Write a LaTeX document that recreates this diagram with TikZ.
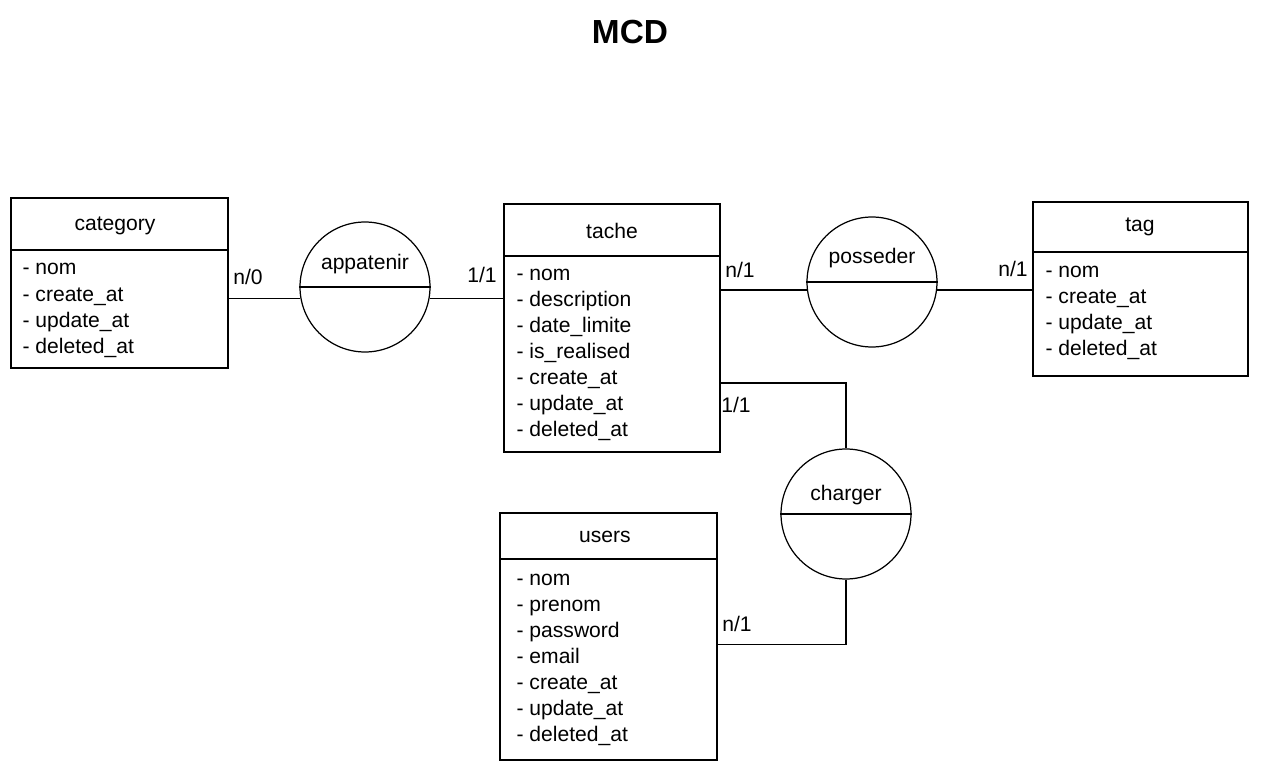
\documentclass[tikz,border=0pt]{standalone}
\usepackage{fontspec}
\setmainfont{Liberation Sans}
\usetikzlibrary{calc}
\begin{document}
\begin{tikzpicture}[x=0.02cm,y=-0.02cm,line width=0.7pt]
    \tikzstyle{entite}=[rectangle, draw, inner sep=0pt]
    \tikzstyle{assoc}=[circle, draw, inner sep=0pt, minimum size=2.6cm]
    \tikzstyle{titre}=[font=\fontsize{12}{14}\selectfont]
    \tikzstyle{attr}=[font=\fontsize{12}{14}\selectfont, anchor=base west, inner sep=0pt]
    \tikzstyle{card}=[font=\fontsize{12}{14}\selectfont, inner sep=0pt]
\useasboundingbox (0,0) rectangle (1261,770);

\node[font=\fontsize{19}{22}\selectfont\bfseries] (mcd) at (630,32) {MCD};

% entite category
\node[entite, minimum width=4.34cm, minimum height=3.4cm] (cat) at (119.5,283) {};
\node[titre] (catT) at (115,226) {category};
\draw (cat.west |- 0,250) -- (cat.east |- 0,250);
\foreach \t [count=\i] in {nom, create\_at, update\_at, deleted\_at}
    \node[attr] (cat\i) at (22,{275+26*(\i-1)}) {- \t};

% entite tache
\node[entite, minimum width=4.32cm, minimum height=4.96cm] (tache) at (612,328) {};
\node[titre] (tacheT) at (612,231) {tache};
\draw (tache.west |- 0,256) -- (tache.east |- 0,256);
\foreach \t [count=\i] in {nom, description, date\_limite, is\_realised, create\_at, update\_at, deleted\_at}
    \node[attr] (tache\i) at (516,{280+26*(\i-1)}) {- \t};

% entite tag
\node[entite, minimum width=4.3cm, minimum height=3.48cm] (tag) at (1140.5,289) {};
\node[titre] (tagT) at (1140,227) {tag};
\draw (tag.west |- 0,252) -- (tag.east |- 0,252);
\foreach \t [count=\i] in {nom, create\_at, update\_at, deleted\_at}
    \node[attr] (tag\i) at (1045,{277+26*(\i-1)}) {- \t};

% entite users
\node[entite, minimum width=4.34cm, minimum height=4.94cm] (users) at (608.5,636.5) {};
\node[titre] (usersT) at (605,537) {users};
\draw (users.west |- 0,559) -- (users.east |- 0,559);
\foreach \t [count=\i] in {nom, prenom, password, email, create\_at, update\_at, deleted\_at}
    \node[attr] (users\i) at (516,{585+26*(\i-1)}) {- \t};

% associations
\node[assoc] (app) at (365,287) {};
\node[titre] (appT) at (365,264) {appatenir};
\draw (app.west) -- (app.east);

\node[assoc] (pos) at (872,282) {};
\node[titre] (posT) at (872,258) {posseder};
\draw (pos.west) -- (pos.east);

\node[assoc] (chg) at (846,514) {};
\node[titre] (chgT) at (846,495) {charger};
\draw (chg.west) -- (chg.east);

% liens
\draw (app.190) -- (app.190 -| cat.east);
\draw (app.-10) -- (app.-10 -| tache.west);
\draw (pos.187) -- (pos.187 -| tache.east);
\draw (pos.-7) -- (pos.-7 -| tag.west);
\draw ($(tache.east)+(0,55)$) -| (chg.north);
\draw (chg.south) |- ($(users.east)+(0,8)$);

% cardinalites
\node[card] (c1) at (248,277) {n/0};
\node[card] (c2) at (482,275) {1/1};
\node[card] (c3) at (740,270) {n/1};
\node[card] (c4) at (1013,269) {n/1};
\node[card] (c5) at (736,405) {1/1};
\node[card] (c6) at (737,624) {n/1};

\end{tikzpicture}
\end{document}
